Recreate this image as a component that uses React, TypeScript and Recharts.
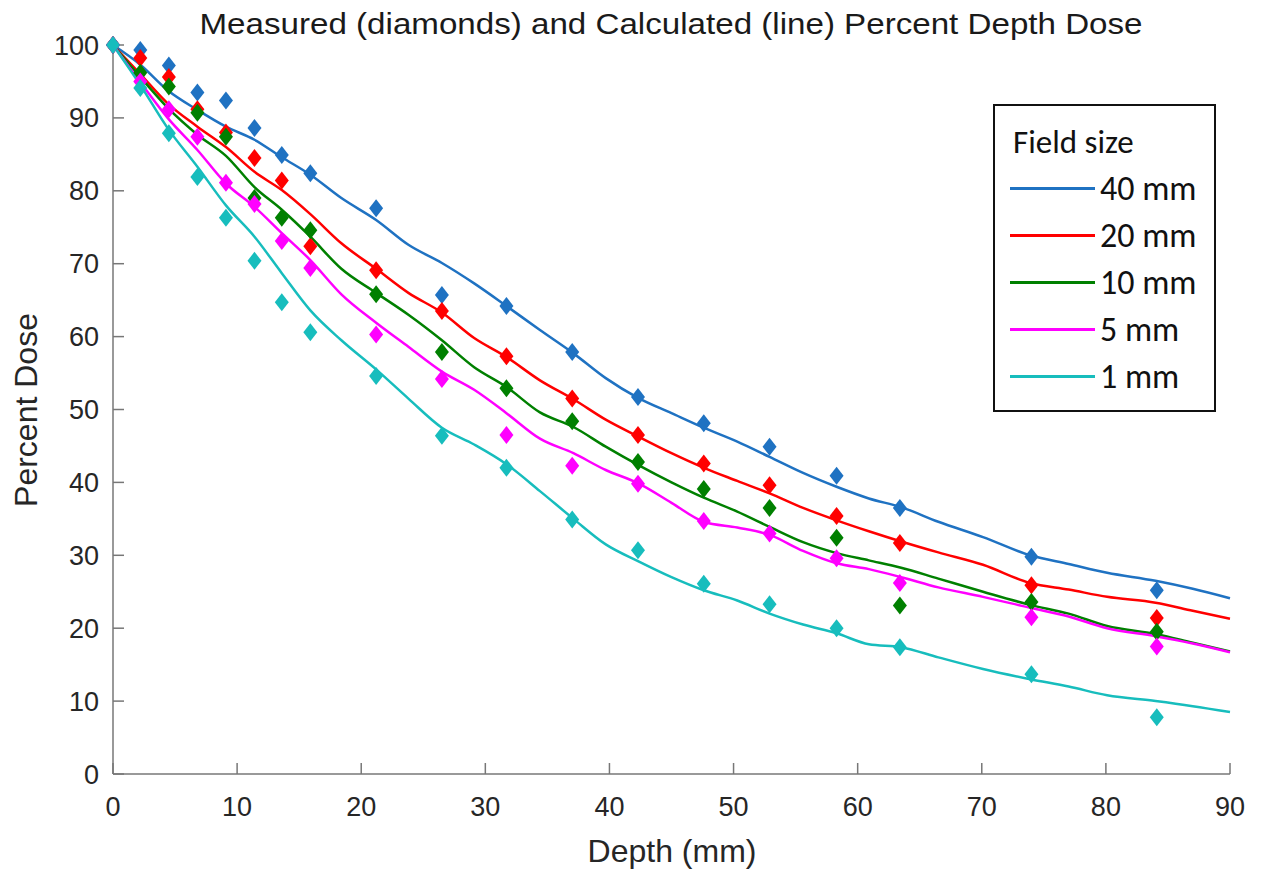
import { ComposedChart, Line, Scatter, XAxis, YAxis, Legend } from "recharts"

// calculated curves (line), depth in mm
const lineDepth = [0, 2.2, 4.4, 6.8, 9.1, 11.4, 13.6, 15.9, 18.4, 21.2, 23.8, 26.5, 29.1, 31.7, 34.4, 37.1, 39.7, 42.3, 45, 47.6, 50.3, 52.9, 55.6, 58.3, 60.9, 63.5, 66.5, 70.1, 73.9, 77, 80.1, 84, 87, 90]
const calc40 = [100, 97.3, 93.8, 91.1, 88.8, 87.0, 84.6, 82.2, 79.0, 76.0, 72.6, 70.1, 67.3, 64.2, 60.9, 57.7, 54.3, 51.6, 49.5, 47.5, 45.6, 43.5, 41.3, 39.4, 37.8, 36.6, 34.6, 32.5, 30.0, 28.8, 27.6, 26.5, 25.4, 24.1]
const calc20 = [100, 96.0, 92.0, 88.8, 86.0, 82.6, 80.1, 76.8, 72.8, 69.3, 66.0, 63.3, 59.8, 57.2, 54.0, 51.4, 48.6, 46.3, 44.0, 42.0, 40.2, 38.5, 36.5, 34.8, 33.3, 31.9, 30.4, 28.7, 26.2, 25.3, 24.3, 23.5, 22.4, 21.3]
const calc10 = [100, 95.6, 91.4, 87.7, 84.8, 80.5, 77.4, 73.7, 69.3, 66.0, 63.0, 59.5, 55.8, 53.1, 49.6, 47.6, 44.9, 42.4, 40.0, 37.9, 36.0, 33.9, 31.8, 30.3, 29.3, 28.3, 26.8, 25.0, 23.2, 22.0, 20.3, 19.2, 18.0, 16.8]
const calc5 = [100, 94.9, 90.0, 85.6, 81.0, 77.8, 74.2, 70.5, 65.8, 61.9, 58.6, 55.2, 52.7, 49.5, 46.0, 44.0, 41.7, 39.9, 37.2, 34.6, 33.8, 32.8, 30.6, 28.9, 28.1, 27.0, 25.6, 24.3, 22.8, 21.6, 20.0, 18.9, 17.9, 16.7]
const calc1 = [100, 94.5, 88.6, 83.3, 78.0, 73.7, 68.7, 63.6, 59.5, 55.5, 51.5, 47.5, 45.2, 42.5, 38.8, 35.0, 31.5, 29.2, 27.0, 25.2, 23.8, 22.0, 20.5, 19.3, 17.8, 17.4, 16.0, 14.4, 13.0, 12.0, 10.8, 10.0, 9.3, 8.5]

// measured points (diamonds)
const measDepth = [0, 2.2, 4.5, 6.8, 9.1, 11.4, 13.6, 15.9, 21.2, 26.5, 31.7, 37.0, 42.3, 47.6, 52.9, 58.3, 63.4, 74.0, 84.1]
const meas40 = [100, 99.3, 97.2, 93.5, 92.4, 88.6, 84.9, 82.4, 77.6, 65.7, 64.2, 57.9, 51.7, 48.1, 44.9, 40.9, 36.5, 29.8, 25.2]
const meas20 = [100, 98.2, 95.6, 91.2, 88.0, 84.5, 81.4, 72.4, 69.1, 63.5, 57.3, 51.5, 46.5, 42.6, 39.6, 35.4, 31.7, 25.9, 21.4]
const meas10 = [100, 96.2, 94.3, 90.7, 87.4, 79.0, 76.3, 74.6, 65.8, 57.9, 52.9, 48.4, 42.8, 39.1, 36.5, 32.4, 23.1, 23.6, 19.5]
const meas5 = [100, 95.0, 91.2, 87.4, 81.1, 78.2, 73.1, 69.4, 60.3, 54.2, 46.5, 42.3, 39.8, 34.7, 33.0, 29.6, 26.2, 21.5, 17.5]
const meas1 = [100, 94.1, 87.9, 81.9, 76.3, 70.4, 64.7, 60.6, 54.6, 46.4, 42.0, 34.9, 30.7, 26.1, 23.3, 20.0, 17.4, 13.7, 7.8]

const fieldSizes = ["40 mm", "20 mm", "10 mm", "5 mm", "1 mm"]
const colors = ["#1f72c2", "#ff0000", "#008000", "#ff00ff", "#17bdbd"]
const calcSeries = [calc40, calc20, calc10, calc5, calc1]
const measSeries = [meas40, meas20, meas10, meas5, meas1]

const xTicks = [0, 10, 20, 30, 40, 50, 60, 70, 80, 90]
const yTicks = [0, 10, 20, 30, 40, 50, 60, 70, 80, 90, 100]

const toPoints = (xs: number[], ys: number[]) => xs.map((x, i) => ({ x, y: ys[i] }))

const Diamond = (props: any) => {
  const { cx, cy, fill } = props
  if (cx == null || cy == null) return null
  return <polygon points={`${cx},${cy - 9} ${cx + 7},${cy} ${cx},${cy + 9} ${cx - 7},${cy}`} fill={fill} />
}

// keep the legend in plotting order (40 mm first), not sorted
const renderLegend = () => (
  <div
    style={{
      width: 223,
      height: 308,
      boxSizing: "border-box",
      border: "2px solid #111",
      background: "#fff",
      fontFamily: "Carlito, Lato, sans-serif",
      color: "#111",
      paddingTop: 17,
    }}
  >
    <div style={{ fontSize: 33, lineHeight: "38px", marginLeft: 18, marginBottom: 4 }}>Field size</div>
    {fieldSizes.map((name, i) => (
      <div key={name} style={{ display: "flex", alignItems: "center", height: 47 }}>
        <div style={{ width: 85, height: 3, background: colors[i], marginLeft: 15, marginRight: 5 }} />
        <span style={{ fontSize: 34 }}>{name}</span>
      </div>
    ))}
  </div>
)

const tickStyle = { fill: "#262626", fontSize: 27, fontFamily: "Liberation Sans, Arial, sans-serif" }

export default function App() {
  return (
    <div style={{ position: "absolute", left: 0, top: 0, background: "#fff" }}>
      <ComposedChart width={1268} height={874} margin={{ top: 45, right: 38, bottom: 0, left: 0 }}>
        <XAxis
          type="number"
          dataKey="x"
          domain={[0, 90]}
          ticks={xTicks}
          height={100}
          tickSize={-11}
          tickMargin={34}
          stroke="#777"
          strokeWidth={1.5}
          tick={tickStyle}
        />
        <YAxis
          type="number"
          dataKey="y"
          domain={[0, 100]}
          ticks={yTicks}
          width={113}
          tickSize={-11}
          tickMargin={25}
          stroke="#777"
          strokeWidth={1.5}
          tick={tickStyle}
        />
        {measSeries.map((vals, i) => (
          <Scatter
            key={"m" + i}
            name={fieldSizes[i] + " measured"}
            data={toPoints(measDepth, vals)}
            fill={colors[i]}
            shape={<Diamond />}
            legendType="none"
            isAnimationActive={false}
          />
        ))}
        {calcSeries.map((vals, i) => (
          <Line
            key={"c" + i}
            name={fieldSizes[i]}
            data={toPoints(lineDepth, vals)}
            dataKey="y"
            type="monotone"
            stroke={colors[i]}
            strokeWidth={2.5}
            dot={false}
            activeDot={false}
            isAnimationActive={false}
          />
        ))}
        <Legend
          layout="vertical"
          align="center"
          verticalAlign="middle"
          content={renderLegend}
          wrapperStyle={{ top: 104, left: 993, width: 223, height: 308 }}
        />
        <text
          x={671}
          y={34}
          textAnchor="middle"
          fontSize={29}
          textLength={943}
          lengthAdjust="spacingAndGlyphs"
          fill="#1a1a1a"
          fontFamily="Liberation Sans, Arial, sans-serif"
        >
          Measured (diamonds) and Calculated (line) Percent Depth Dose
        </text>
        <text
          x={672}
          y={862}
          textAnchor="middle"
          fontSize={32}
          fill="#262626"
          fontFamily="Liberation Sans, Arial, sans-serif"
        >
          Depth (mm)
        </text>
        <text
          x={37}
          y={410}
          textAnchor="middle"
          fontSize={32}
          fill="#262626"
          fontFamily="Liberation Sans, Arial, sans-serif"
          transform="rotate(-90 37 410)"
        >
          Percent Dose
        </text>
      </ComposedChart>
    </div>
  )
}
